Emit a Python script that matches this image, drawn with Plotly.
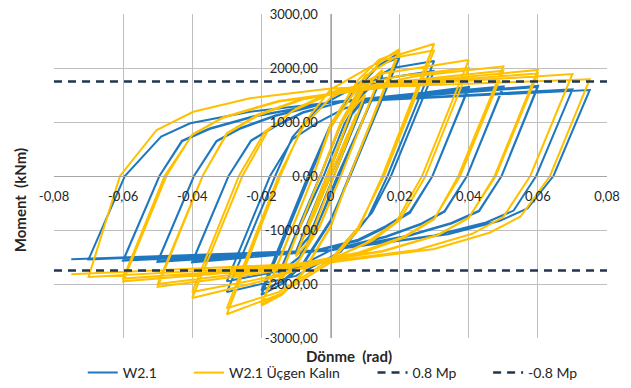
import plotly.graph_objects as go

# Rotation (rad) / moment (kNm) history, one (rotation, moment) pair per vertex.
w21_path = [
    (0.0, 0),
    # +/-0.00375
    (0.00375, 560), (-0.00375, -545), (0.00375, 565), (-0.00375, -550),
    # +/-0.005
    (0.005, 745), (-0.005, -730), (0.005, 750), (-0.005, -735),
    # +/-0.0075
    (0.0075, 1090), (-0.0075, -1070), (0.0075, 1100), (-0.0075, -1075),
    # +/-0.01
    (0.0065, 1230), (0.01, 1420), (-0.0062, -1120), (-0.01, -1400),
    (0.0062, 1140), (0.01, 1430), (-0.0062, -1130), (-0.01, -1410),
    # +/-0.015
    (0.0, 130), (0.006, 1150), (0.01, 1550), (0.015, 1850),
    (0.002, 0), (-0.004, -950), (-0.009, -1500), (-0.015, -1800),
    (-0.002, 0), (0.004, 960), (0.009, 1520), (0.015, 1870),
    (0.0025, 0), (-0.004, -940), (-0.009, -1500), (-0.015, -1820),
    # +/-0.02
    (-0.003, 0), (0.003, 950), (0.009, 1700), (0.014, 2050), (0.02, 2280),
    (0.0055, 0), (0.0, -850), (-0.008, -1650), (-0.014, -2000), (-0.02, -2200),
    (-0.006, 0), (0.0, 900), (0.008, 1700), (0.014, 2050), (0.02, 2200),
    (0.0057, 0), (0.0, -820), (-0.008, -1620), (-0.014, -1950), (-0.02, -2120),
    # +/-0.03
    (-0.0065, 0), (0.0, 950), (0.008, 1650), (0.018, 2000), (0.03, 2130),
    (0.0165, 0), (0.011, -750), (0.003, -1400), (-0.01, -1850), (-0.03, -2150),
    (-0.016, 0), (-0.011, 720), (-0.003, 1300), (0.01, 1750), (0.03, 1950),
    (0.0175, 0), (0.012, -680), (0.004, -1250), (-0.01, -1700), (-0.03, -1950),
    # +/-0.04
    (-0.0175, 0), (-0.011, 680), (-0.004, 980), (0.004, 1250), (0.015, 1450), (0.04, 1650),
    (0.0295, 0), (0.023, -680), (0.016, -950), (0.008, -1200), (-0.005, -1400), (-0.04, -1600),
    (-0.0295, 0), (-0.023, 660), (-0.016, 930), (-0.008, 1180), (0.005, 1400), (0.04, 1630),
    (0.0295, 0), (0.023, -660), (0.016, -930), (0.008, -1180), (-0.005, -1390), (-0.04, -1590),
    # +/-0.05
    (-0.0295, 0), (-0.023, 650), (-0.016, 920), (-0.008, 1170), (0.005, 1400), (0.05, 1660),
    (0.0395, 0), (0.033, -660), (0.026, -900), (0.016, -1130), (0.0, -1380), (-0.05, -1590),
    (-0.0395, 0), (-0.033, 650), (-0.026, 890), (-0.016, 1120), (0.0, 1370), (0.05, 1640),
    (0.0395, 0), (0.033, -650), (0.026, -890), (0.016, -1120), (0.0, -1370), (-0.05, -1580),
    # +/-0.06
    (-0.0395, 0), (-0.033, 640), (-0.026, 880), (-0.016, 1110), (0.0, 1370), (0.06, 1670),
    (0.0495, 0), (0.043, -650), (0.035, -880), (0.022, -1120), (0.0, -1380), (-0.06, -1570),
    (-0.0495, 0), (-0.043, 650), (-0.035, 880), (-0.022, 1110), (0.0, 1360), (0.06, 1650),
    (0.0495, 0), (0.043, -640), (0.035, -870), (0.022, -1110), (0.0, -1370), (-0.06, -1560),
    # +/-0.07
    (-0.0495, 0), (-0.043, 640), (-0.035, 870), (-0.022, 1100), (0.0, 1360), (0.07, 1605),
    (0.0595, 0), (0.053, -640), (0.045, -860), (0.03, -1100), (0.0, -1370), (-0.07, -1545),
    # +/-0.075
    (-0.0595, 0), (-0.049, 728), (-0.0406, 976), (-0.0233, 1190), (0.0, 1360), (0.075, 1593),
    (0.0645, 0), (0.057, -600), (0.049, -830), (0.034, -1080), (0.0, -1370), (-0.075, -1543),
]

ucgen_path = [
    (0.0, 0),
    # +/-0.00375
    (0.00375, 585), (-0.00375, -570), (0.00375, 590), (-0.00375, -575),
    # +/-0.005
    (0.005, 775), (-0.005, -760), (0.005, 780), (-0.005, -765),
    # +/-0.0075
    (0.0075, 1140), (-0.0075, -1120), (0.0075, 1150), (-0.0075, -1125),
    # +/-0.01
    (0.0062, 1230), (0.01, 1500), (-0.0062, -1210), (-0.01, -1480),
    (0.0062, 1220), (0.01, 1510), (-0.0062, -1200), (-0.01, -1490),
    # +/-0.015
    (0.0, 110), (0.006, 1200), (0.01, 1650), (0.015, 1950),
    (0.003, 0), (-0.003, -900), (-0.009, -1550), (-0.015, -1930),
    (-0.003, 0), (0.003, 950), (0.009, 1600), (0.015, 1970),
    (0.003, 0), (-0.003, -920), (-0.009, -1560), (-0.015, -1950),
    # +/-0.02
    (-0.003, 0), (0.003, 1000), (0.01, 1800), (0.015, 2150), (0.02, 2350),
    (0.0055, 0), (0.0, -950), (-0.008, -1800), (-0.014, -2200), (-0.02, -2400),
    (-0.005, 0), (0.0, 950), (0.008, 1780), (0.014, 2150), (0.02, 2300),
    (0.0055, 0), (0.0, -930), (-0.008, -1780), (-0.014, -2180), (-0.02, -2370),
    # +/-0.03
    (-0.005, 0), (0.0, 900), (0.01, 1850), (0.02, 2250), (0.03, 2450),
    (0.015, 0), (0.008, -1000), (0.0, -1600), (-0.015, -2200), (-0.03, -2560),
    (-0.0145, 0), (-0.008, 950), (0.0, 1600), (0.015, 2150), (0.03, 2330),
    (0.0155, 0), (0.008, -950), (0.0, -1550), (-0.015, -2150), (-0.03, -2450),
    # +/-0.04
    (-0.015, 0), (-0.008, 900), (0.0, 1450), (0.015, 1900), (0.04, 2150),
    (0.0265, 0), (0.019, -850), (0.01, -1250), (0.0, -1550), (-0.02, -1950), (-0.04, -2260),
    (-0.0255, 0), (-0.018, 850), (-0.01, 1250), (0.0, 1550), (0.02, 1850), (0.04, 2000),
    (0.0275, 0), (0.02, -820), (0.012, -1200), (0.0, -1550), (-0.02, -1900), (-0.04, -2150),
    # +/-0.05
    (-0.0265, 0), (-0.019, 820), (-0.011, 1200), (0.0, 1520), (0.025, 1850), (0.05, 2030),
    (0.037, 0), (0.03, -800), (0.021, -1150), (0.008, -1450), (-0.02, -1800), (-0.05, -2050),
    (-0.037, 0), (-0.03, 790), (-0.021, 1140), (-0.008, 1430), (0.02, 1750), (0.05, 1950),
    (0.0375, 0), (0.03, -790), (0.021, -1130), (0.008, -1420), (-0.02, -1760), (-0.05, -2000),
    # +/-0.06
    (-0.037, 0), (-0.03, 780), (-0.021, 1120), (-0.008, 1420), (0.02, 1720), (0.06, 1963),
    (0.0475, 0), (0.04, -780), (0.031, -1100), (0.015, -1400), (-0.02, -1740), (-0.06, -1950),
    (-0.0475, 0), (-0.04, 770), (-0.031, 1090), (-0.015, 1390), (0.02, 1700), (0.06, 1900),
    (0.0478, 0), (0.04, -770), (0.031, -1090), (0.015, -1390), (-0.02, -1720), (-0.06, -1900),
    # +/-0.07
    (-0.048, 0), (-0.04, 760), (-0.031, 1080), (-0.015, 1380), (0.02, 1680), (0.07, 1889),
    (0.0578, 0), (0.05, -760), (0.041, -1070), (0.025, -1370), (-0.01, -1660), (-0.07, -1870),
    # +/-0.075
    (-0.0609, 0), (-0.0503, 852), (-0.0397, 1190), (-0.0233, 1439), (0.0, 1620), (0.075, 1790),
    (0.0635, 0), (0.055, -750), (0.046, -1050), (0.03, -1350), (0.0, -1600), (-0.075, -1820),
]

# 0.8 Mp reference levels (kNm) and the rotation span they cover
mp_levels = [1750, -1750]
mp_names = ["0.8 Mp", "-0.8 Mp"]
mp_span = [-0.08, 0.08]

x_ticks = [-0.08, -0.06, -0.04, -0.02, 0.0, 0.02, 0.04, 0.06, 0.08]
x_tick_text = ["-0,08", "-0,06", "-0,04", "-0,02", "0", "0,02", "0,04", "0,06", "0,08"]
y_ticks = [-3000, -2000, -1000, 0, 1000, 2000, 3000]
y_tick_text = ["-3000,00", "-2000,00", "-1000,00", "0,00", "1000,00", "2000,00", "3000,00"]

BLUE = "#1f78bf"
YELLOW = "#ffc000"
NAVY = "#1f3552"
GRID = "#bfbfbf"
TEXT = "#262626"
FONT = "Lato"

# one legend box per entry so each sits at its own spot along the bottom row
legend_slots = [0.052, 0.244, 0.576, 0.785]
legend_ids = ["legend", "legend2", "legend3", "legend4"]

fig = go.Figure()
fig.add_trace(go.Scatter(
    x=[p[0] for p in w21_path], y=[p[1] for p in w21_path],
    mode="lines", name="W2.1", line=dict(color=BLUE, width=2), legend=legend_ids[0],
))
fig.add_trace(go.Scatter(
    x=[p[0] for p in ucgen_path], y=[p[1] for p in ucgen_path],
    mode="lines", name="W2.1 Üçgen Kalın", line=dict(color=YELLOW, width=2), legend=legend_ids[1],
))
for i, (lvl, nm) in enumerate(zip(mp_levels, mp_names)):
    fig.add_trace(go.Scatter(
        x=mp_span, y=[lvl, lvl], mode="lines", name=nm,
        line=dict(color=NAVY, width=2.5, dash="8px,6px"), legend=legend_ids[2 + i],
    ))

legend_style = dict(orientation="h", xanchor="left", y=-0.108, yanchor="middle",
                    font=dict(size=14, color=TEXT), bgcolor="rgba(0,0,0,0)")
legends = {lid: dict(legend_style, x=xs) for lid, xs in zip(legend_ids, legend_slots)}

fig.update_layout(
    width=631, height=388,
    margin=dict(l=54, r=24, t=14, b=50, autoexpand=False),
    paper_bgcolor="white", plot_bgcolor="white",
    font=dict(family=FONT, size=13, color=TEXT),
    showlegend=True,
    xaxis=dict(
        range=[-0.08, 0.08], tickvals=x_ticks, ticktext=x_tick_text,
        showgrid=True, gridcolor=GRID, gridwidth=1, zeroline=False,
        showline=True, linecolor="#a6a6a6", mirror=True,
        anchor="free", position=0.5, automargin=False,
        ticks="outside", ticklen=8, tickcolor="rgba(0,0,0,0)",
        tickfont=dict(size=13, color=TEXT),
    ),
    yaxis=dict(
        range=[-3000, 3000], tickvals=y_ticks, ticktext=y_tick_text,
        showgrid=True, gridcolor=GRID, gridwidth=1, zeroline=False,
        showline=True, linecolor="#a6a6a6", mirror=True,
        anchor="free", position=0.5, automargin=False,
        ticks="outside", ticklen=10, tickcolor="rgba(0,0,0,0)",
        tickfont=dict(size=13, color=TEXT),
    ),
    annotations=[
        dict(text="<b>Dönme\u00a0 (rad)</b>", xref="paper", yref="paper",
             x=0.534, y=-0.056, xanchor="center", yanchor="middle",
             showarrow=False, font=dict(size=15, color=TEXT)),
        dict(text="<b>Moment\u00a0 (kNm)</b>", xref="paper", yref="paper",
             x=-0.061, y=0.426, xanchor="center", yanchor="middle", textangle=-90,
             showarrow=False, font=dict(size=15, color=TEXT)),
    ],
    **legends,
)

fig.write_html("out.html")
